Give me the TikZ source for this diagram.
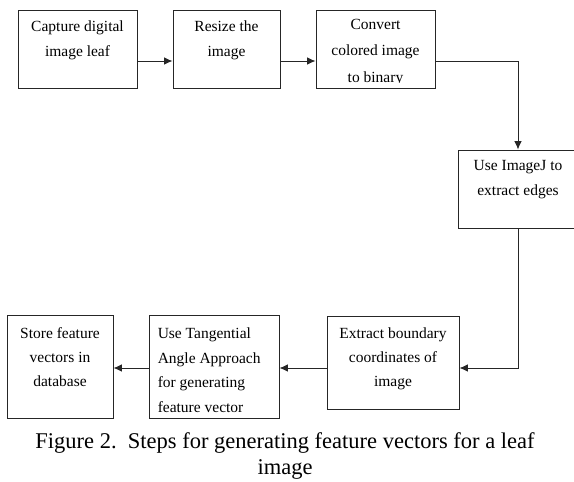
\documentclass[tikz,border=0pt]{standalone}
\usepackage{fontspec}
\setmainfont{Liberation Serif}
\usetikzlibrary{arrows.meta}
\begin{document}
\begin{tikzpicture}[x=1pt,y=-1pt,
  box/.style={draw=black!85, line width=0.9pt, inner sep=0pt},
  txt/.style={inner sep=0pt, align=center, font=\fontsize{15.5}{25}\selectfont},
  txtl/.style={inner sep=0pt, align=left, font=\fontsize{15.5}{24.5}\selectfont},
  arr/.style={draw=black!85, line width=0.9pt, -{Latex[length=8.5pt,width=7.5pt]}},
  capt/.style={inner sep=0pt, align=center, font=\fontsize{22.5}{26}\selectfont}]
\useasboundingbox (0,0) rectangle (574,482);
\fill[white] (0,0) rectangle (574,482);
\coordinate (r1) at (0,61);
\coordinate (r2) at (0,368);
% boxes
\node[box, minimum width=119pt, minimum height=78pt] (b1) at (77.5,49) {};
\node[box, minimum width=107pt, minimum height=78pt] (b2) at (226.5,49) {};
\node[box, minimum width=119pt, minimum height=78pt] (b3) at (375.5,49) {};
\node[box, minimum width=120pt, minimum height=78pt] (b4) at (518,189) {};
\node[box, minimum width=132pt, minimum height=93pt] (b5) at (393,362.5) {};
\node[box, minimum width=106pt, minimum height=103pt] (b6) at (60,366.5) {};
\node[box, minimum width=130pt, minimum height=103pt] (b7) at (214,366.5) {};
% texts
\node[txt, anchor=north, yshift=-11pt] (t1) at (b1.north) {Capture digital\\image leaf};
\node[txt, anchor=north, yshift=-11pt] (t2) at (b2.north) {Resize the\\image};
\begin{scope}
\clip (317,11) rectangle (434,82.5);
\node[txt, anchor=north, yshift=-9pt, font=\fontsize{15.5}{26.5}\selectfont] (t3) at (b3.north) {Convert\\colored image\\to binary};
\end{scope}
\node[txt, anchor=north, yshift=-11pt] (t4) at (b4.north) {Use ImageJ to\\extract edges};
\node[txt, anchor=north, yshift=-12pt, font=\fontsize{15.5}{24}\selectfont] (t5) at (b5.north) {Extract boundary\\coordinates of\\image};
\node[txt, anchor=north, yshift=-13pt, font=\fontsize{15.5}{24}\selectfont] (t6) at (b6.north) {Store feature\\vectors in\\database};
\node[txtl, anchor=north west, xshift=9pt, yshift=-13pt] (t7) at (b7.north west) {Use Tangential\\Angle Approach\\for generating\\feature vector};
% connectors
\draw[arr] (b1.east |- r1) -- (b2.west |- r1);
\draw[arr] (b2.east |- r1) -- (b3.west |- r1);
\draw[arr] (b3.east |- r1) -| (b4.north);
\draw[arr] (b4.south) |- (b5.east |- r2);
\draw[arr] (b5.west |- r2) -- (b7.east |- r2);
\draw[arr] (b7.west |- r2) -- (b6.east |- r2);
% caption
\node[capt, anchor=north] (cap) at (285,432.5) {Figure 2.\ \ Steps for generating feature vectors for a leaf\\image};
\end{tikzpicture}
\end{document}
